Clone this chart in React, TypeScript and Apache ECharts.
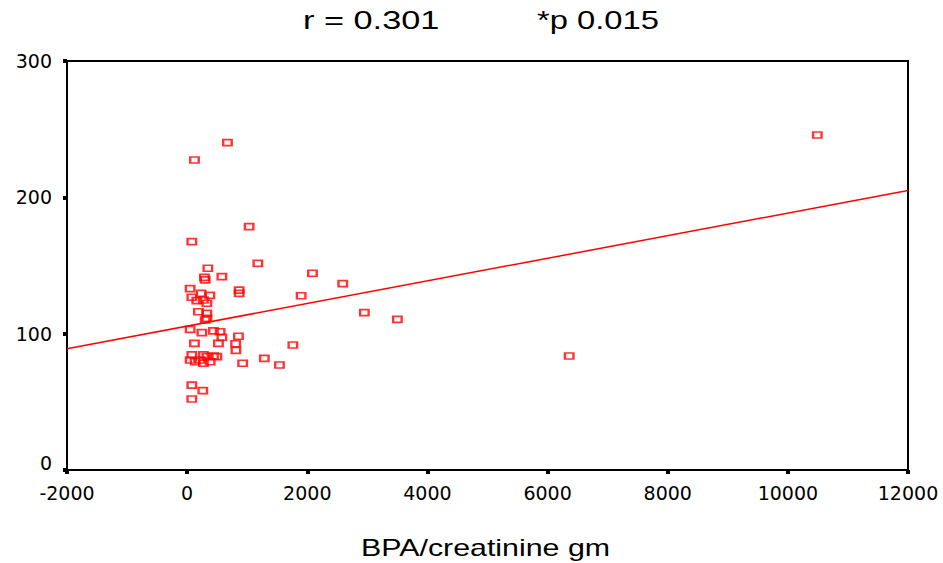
import React, { useEffect, useRef } from "react";
import * as echarts from "echarts";

const titleLeft = "r = 0.301";
const titleRight = "*p 0.015";
const xAxisName = "BPA/creatinine gm";

const xTicks = { min: -2000, max: 12000, interval: 2000 };
const yTicks = { min: 0, max: 300, interval: 100 };

// BPA/creatinine (x) values
const bpaValues = [
  10490, 6360, 3500, 2950, 2590, 2086, 1898, 1760, 1537, 1285,
  1177, 1032, 671, 122, 78, 924, 854, 807, 812, 866,
  866, 578, 578, 521, 494, 438, 438, 549, 378, 345,
  288, 300, 233, 271, 328, 161, 188, 328, 328, 300,
  50, 78, 50, 245, 122, 78, 50, 133, 216, 271,
  328, 271, 383, 78, 261, 78,
];
// paired y values
const yValues = [
  245.7, 83.6, 110.5, 115.4, 136.7, 144.3, 127.8, 91.7, 77.0, 81.9,
  151.6, 178.5, 240.1, 227.4, 167.5, 78.3, 98.1, 92.6, 87.8, 132.0,
  129.6, 141.8, 97.3, 92.9, 83.1, 83.6, 102.0, 101.4, 128.1, 148.0,
  141.3, 139.4, 129.6, 124.7, 122.3, 124.2, 116.1, 114.9, 111.3, 110.0,
  133.0, 126.7, 103.2, 100.7, 92.9, 84.4, 80.7, 79.4, 80.7, 84.4,
  83.1, 78.3, 79.4, 62.3, 58.2, 52.1,
];

// regression line end points
const fitX = [-2000, 12000];
const fitY = [89, 205];

export default function App() {
  const ref = useRef<HTMLDivElement>(null);
  useEffect(() => {
    document.body.style.margin = "0";
    if (!ref.current) return;
    const chart = echarts.init(ref.current, undefined, { renderer: "svg" });
    const labelFont = "DejaVu Sans";
    chart.setOption({
      animation: false,
      backgroundColor: "#ffffff",
      grid: {
        left: 67,
        right: 35,
        top: 61,
        bottom: 93,
        show: true,
        borderColor: "#000",
        borderWidth: 2,
        backgroundColor: "transparent",
      },
      xAxis: {
        type: "value",
        min: xTicks.min,
        max: xTicks.max,
        interval: xTicks.interval,
        axisLine: { show: true, onZero: false, lineStyle: { color: "#000", width: 2 } },
        axisTick: { show: true, length: 4, lineStyle: { color: "#000", width: 4 } },
        splitLine: { show: false },
        axisLabel: {
          color: "#000",
          fontSize: 19,
          fontFamily: labelFont,
          margin: 13,
          showMinLabel: true,
          showMaxLabel: true,
          formatter: (v: number) => String(v),
        },
      },
      yAxis: {
        type: "value",
        min: yTicks.min,
        max: yTicks.max,
        interval: yTicks.interval,
        axisLine: { show: true, onZero: false, lineStyle: { color: "#000", width: 2 } },
        axisTick: { show: true, length: 4, lineStyle: { color: "#000", width: 4 } },
        splitLine: { show: false },
        axisLabel: {
          color: "#000",
          fontSize: 19,
          fontFamily: labelFont,
          margin: 15,
          showMinLabel: true,
          showMaxLabel: true,
          formatter: (v: number) => (v === 0 ? "{z|0}" : String(v)),
          rich: {
            z: { fontSize: 19, fontFamily: labelFont, color: "#000", padding: [0, 0, 14, 0] },
          },
        },
      },
      graphic: [
        {
          type: "text",
          x: 303,
          y: 20,
          scaleX: 1.32,
          style: {
            text: titleLeft,
            fontSize: 26,
            fontFamily: "Liberation Sans",
            fill: "#000",
            textAlign: "left",
            textVerticalAlign: "middle",
          },
        },
        {
          type: "text",
          x: 537,
          y: 20,
          scaleX: 1.26,
          style: {
            text: titleRight,
            fontSize: 26,
            fontFamily: "Liberation Sans",
            fill: "#000",
            textAlign: "left",
            textVerticalAlign: "middle",
          },
        },
        {
          type: "text",
          x: 361,
          y: 548,
          scaleX: 1.32,
          style: {
            text: xAxisName,
            fontSize: 23,
            fontFamily: "Liberation Sans",
            fill: "#000",
            textAlign: "left",
            textVerticalAlign: "middle",
          },
        },
      ],
      series: [
        {
          type: "line",
          data: fitX.map((x, i) => [x, fitY[i]]),
          symbol: "none",
          lineStyle: { color: "#ff0000", width: 1.5 },
          z: 2,
        },
        {
          type: "scatter",
          data: bpaValues.map((x, i) => [x, yValues[i]]),
          symbol: "rect",
          symbolSize: [8.5, 6],
          itemStyle: {
            color: "rgba(255,255,255,0)",
            borderColor: "#ff0000",
            borderWidth: 2,
          },
          z: 3,
        },
      ],
    });
    return () => chart.dispose();
  }, []);
  return <div ref={ref} style={{ width: 943, height: 563 }} />;
}
